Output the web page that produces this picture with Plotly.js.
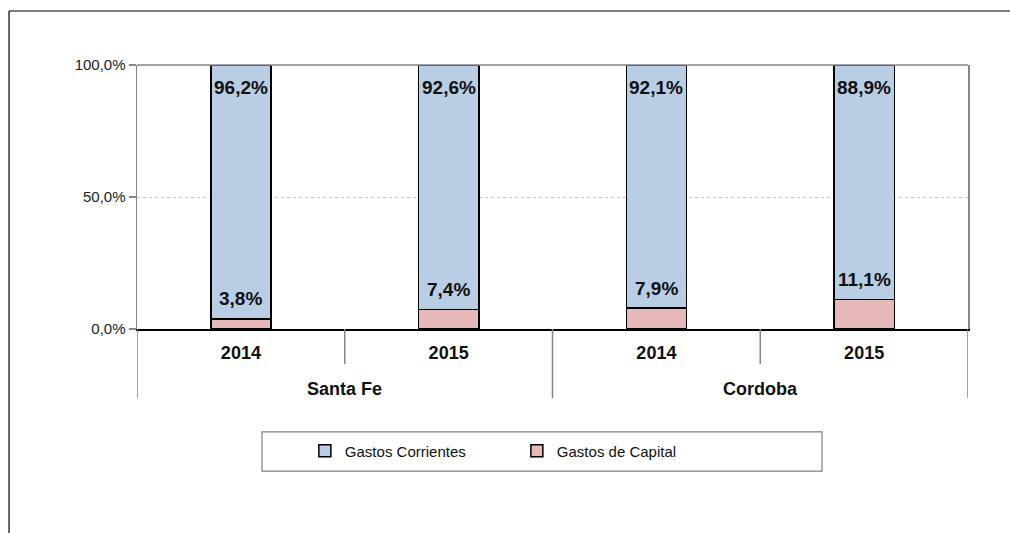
<!DOCTYPE html>
<html>
<head>
<meta charset="utf-8">
<script src="https://cdn.plot.ly/plotly-3.0.1.min.js"></script>
<style>html,body{margin:0;padding:0;background:#fff;}#chart{width:1010px;height:533px;}</style>
</head>
<body>
<div id="chart"></div>
<script>
var groups = ["Santa Fe", "Santa Fe", "Cordoba", "Cordoba"];
var years = ["2014", "2015", "2014", "2015"];
var corrientes = [0.962, 0.926, 0.921, 0.889];
var capital = [0.038, 0.074, 0.079, 0.111];
var seriesNames = ["Gastos Corrientes", "Gastos de Capital"];
var yTicks = [0, 0.5, 1];

function fmt(v) { return (v * 100).toFixed(1).replace('.', ',') + '%'; }

var FONT = 'Liberation Sans, Arial, sans-serif';
var keys = groups.map(function (g, i) { return g + ' ' + years[i]; });

var traceCap = {
  type: 'bar', name: seriesNames[1], x: keys, y: capital, legendrank: 2,
  marker: {color: '#E6B9B8', line: {color: '#000', width: 1.5}},
  width: 0.29, hoverinfo: 'skip'
};
var traceCor = {
  type: 'bar', name: seriesNames[0], x: keys, y: corrientes, legendrank: 1,
  marker: {color: '#B9CDE5', line: {color: '#000', width: 1.5}},
  width: 0.29, hoverinfo: 'skip'
};

var annotations = [];
for (var i = 0; i < keys.length; i++) {
  annotations.push({
    x: i, y: capital[i] + corrientes[i], xref: 'x', yref: 'y',
    text: fmt(corrientes[i]), showarrow: false,
    yanchor: 'middle', yshift: -22,
    font: {family: FONT, size: 19, color: '#111', weight: 'bold'}
  });
  annotations.push({
    x: i, y: capital[i], xref: 'x', yref: 'y',
    text: fmt(capital[i]), showarrow: false,
    yanchor: 'middle', yshift: 20,
    font: {family: FONT, size: 19, color: '#111', weight: 'bold'}
  });
}

var SEP = '#868686';
var shapes = [
  {type: 'line', xref: 'paper', yref: 'paper', x0: 0, x1: 1, y0: 1, y1: 1, line: {color: SEP, width: 1.5}},
  {type: 'rect', xref: 'paper', yref: 'paper', x0: 0.1504, x1: 0.8243, y0: -0.390, y1: -0.538, line: {color: '#808080', width: 1.2}},
  {type: 'line', xref: 'paper', yref: 'paper', x0: -0.154, x1: -0.154, y0: 1.2045, y1: -0.78, line: {color: '#000', width: 1.2}},
  {type: 'line', xref: 'paper', yref: 'paper', x0: -0.154, x1: 1.06, y0: 1.2045, y1: 1.2045, line: {color: '#000', width: 1.2}}
];

// category separators: long at group boundaries (and ends), short between years
var groupStart = 0;
for (var j = 0; j <= keys.length; j++) {
  var isGroupEdge = (j === 0 || j === keys.length || groups[j] !== groups[j - 1]);
  shapes.push({
    type: 'line', xref: 'x', yref: 'paper', x0: j - 0.5, x1: j - 0.5,
    y0: 0, y1: isGroupEdge ? -0.262 : -0.133, line: {color: SEP, width: 1.5}
  });
  if (isGroupEdge && j > 0) {
    annotations.push({
      x: (groupStart + j - 1) / 2, y: -0.227, xref: 'x', yref: 'paper',
      text: groups[j - 1], showarrow: false, yanchor: 'middle',
      font: {family: FONT, size: 18, color: '#111', weight: 'bold'}
    });
    groupStart = j;
  }
}

var layout = {
  width: 1010, height: 533,
  margin: {l: 137, r: 42, t: 65, b: 204},
  paper_bgcolor: '#fff', plot_bgcolor: '#fff',
  barmode: 'stack',
  separators: ',.',
  showlegend: true,
  legend: {
    orientation: 'h', x: 0.202, xanchor: 'left', y: -0.462, yanchor: 'middle',
    traceorder: 'normal', entrywidth: 167,
    font: {family: FONT, size: 15, color: '#111'}
  },
  xaxis: {
    type: 'category', tickvals: keys, ticktext: years,
    range: [-0.5, keys.length - 0.5],
    showline: true, linecolor: '#000', linewidth: 1.5,
    ticks: '', ticklabelstandoff: 7,
    showgrid: false, zeroline: false,
    tickfont: {family: FONT, size: 18, color: '#111', weight: 'bold'},
    fixedrange: true
  },
  yaxis: {
    range: [0, 1], tickvals: yTicks, tickformat: '.1%',
    showline: true, linecolor: SEP, linewidth: 1.5, mirror: true,
    ticks: 'outside', ticklen: 7, tickcolor: SEP, tickwidth: 1.5,
    showgrid: true, gridcolor: '#C8C8C8', griddash: 'dot', gridwidth: 1,
    zeroline: false,
    tickfont: {family: FONT, size: 15, color: '#222'},
    fixedrange: true
  },
  annotations: annotations,
  shapes: shapes
};

Plotly.newPlot('chart', [traceCap, traceCor], layout, {displayModeBar: false, staticPlot: true});
</script>
</body>
</html>
